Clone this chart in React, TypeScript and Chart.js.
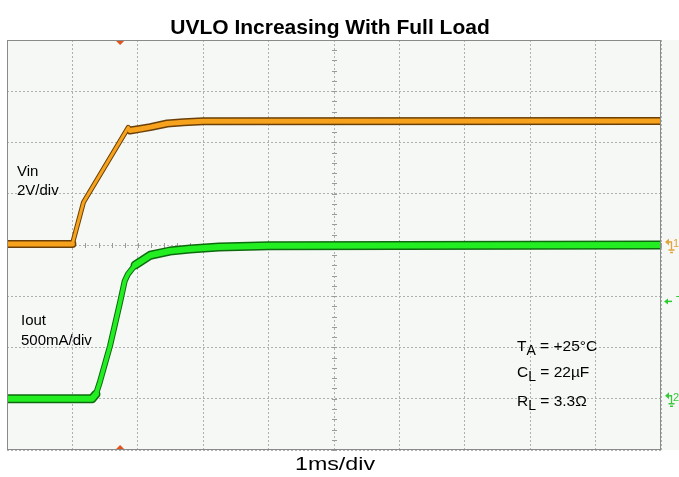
import React, { useEffect, useRef } from "react";
import { Chart, registerables } from "chart.js";

Chart.register(...registerables);

// ---- Data (time in ms, Vin in volts, Iout in mA) ----
const TIME_MS_VIN = [0, 1.0, 1.17, 1.855, 1.88, 2.03, 2.19, 2.45, 2.7, 3.0, 10];
const VIN_VOLTS = [0.04, 0.04, 1.67, 4.59, 4.47, 4.53, 4.6, 4.74, 4.79, 4.83, 4.84];

const TIME_MS_IOUT = [0, 1.3, 1.36, 1.42, 1.575, 1.73, 1.8, 1.85, 1.96, 2.19, 2.49, 2.8, 3.24, 4.0, 10];
const IOUT_MA = [0, 0, 45, 163, 515, 944, 1149, 1217, 1305, 1400, 1441, 1461, 1480, 1493, 1500];

// scope settings
const VIN_V_PER_DIV = 2;
const IOUT_MA_PER_DIV = 500;
const VIN_GROUND_DIV = 0;
const IOUT_GROUND_DIV = -3;
const TIME_DIVS = 10;
const VERT_DIVS_HALF = 4;
const TRIGGER_TIME_MS = 1.73;
const TRIGGER_LEVEL_MA = 950;

const TITLE = "UVLO Increasing With Full Load";
const X_LABEL = "1ms/div";

const vinPoints = TIME_MS_VIN.map((t, i) => ({ x: t, y: VIN_VOLTS[i] / VIN_V_PER_DIV + VIN_GROUND_DIV }));
const ioutPoints = TIME_MS_IOUT.map((t, i) => ({ x: t, y: IOUT_MA[i] / IOUT_MA_PER_DIV + IOUT_GROUND_DIV }));

const ORANGE = "#f7a21c";
const ORANGE_DARK = "#6a4008";
const GREEN = "#22ee22";
const GREEN_DARK = "#0e6a0e";

const scopePlugin = {
  id: "scope",
  beforeDraw(chart: any) {
    const { ctx, chartArea: a, width, height } = chart;
    ctx.save();
    ctx.fillStyle = "#ffffff";
    ctx.fillRect(0, 0, width, height);
    ctx.fillStyle = "#f6f8f6";
    ctx.fillRect(a.left, a.top, width - a.left, a.bottom - a.top);
    ctx.restore();
  },
  beforeDatasetsDraw(chart: any) {
    const { ctx, scales } = chart;
    const xs = scales.x, ys = scales.y;
    ctx.save();
    ctx.strokeStyle = "#9a9a9a";
    ctx.lineWidth = 1;
    const y0 = Math.round(ys.getPixelForValue(0)) + 0.5;
    for (let v = 0; v <= TIME_DIVS + 1e-9; v += 0.2) {
      const px = Math.round(xs.getPixelForValue(v)) + 0.5;
      ctx.beginPath();
      ctx.moveTo(px, y0 - 2.5);
      ctx.lineTo(px, y0 + 2.5);
      ctx.stroke();
    }
    const x0 = Math.round(xs.getPixelForValue(TIME_DIVS / 2)) + 0.5;
    for (let v = -VERT_DIVS_HALF; v <= VERT_DIVS_HALF + 1e-9; v += 0.2) {
      const py = Math.round(ys.getPixelForValue(v)) + 0.5;
      ctx.beginPath();
      ctx.moveTo(x0 - 2.5, py);
      ctx.lineTo(x0 + 2.5, py);
      ctx.stroke();
    }
    ctx.restore();
  },
  afterDraw(chart: any) {
    const { ctx, chartArea: a, scales } = chart;
    const xs = scales.x, ys = scales.y;
    ctx.save();
    // frame
    ctx.strokeStyle = "#8a8a8a";
    ctx.lineWidth = 1;
    ctx.strokeRect(a.left + 0.5, a.top + 0.5, a.right - a.left - 1, a.bottom - a.top - 1);

    // title
    ctx.fillStyle = "#000";
    ctx.textBaseline = "alphabetic";
    ctx.textAlign = "center";
    ctx.font = "bold 21px 'Liberation Sans', Arial, sans-serif";
    ctx.fillText(TITLE, 330, 34);

    // x label (stretched to match)
    ctx.textAlign = "left";
    ctx.font = "18.5px 'Liberation Sans', Arial, sans-serif";
    const w = ctx.measureText(X_LABEL).width;
    ctx.save();
    ctx.translate(295, 470);
    ctx.scale(80 / w, 1);
    ctx.fillText(X_LABEL, 0, 0);
    ctx.restore();

    // channel labels
    ctx.font = "15px 'Liberation Sans', Arial, sans-serif";
    ctx.fillText("Vin", 17, 176);
    ctx.fillText("2V/div", 17, 195);
    ctx.fillText("Iout", 21, 325);
    ctx.fillText("500mA/div", 21, 345);

    // conditions with subscripts
    const sub = (main: string, s: string, rest: string, x: number, y: number) => {
      ctx.font = "15.5px 'Liberation Sans', Arial, sans-serif";
      ctx.fillText(main, x, y);
      let cx = x + ctx.measureText(main).width;
      ctx.font = "14px 'Liberation Sans', Arial, sans-serif";
      ctx.fillText(s, cx, y + 3.5);
      cx += ctx.measureText(s).width;
      ctx.font = "15.5px 'Liberation Sans', Arial, sans-serif";
      ctx.fillText(rest, cx, y);
    };
    sub("T", "A", " = +25\u00b0C", 517, 351);
    sub("C", "L", " = 22\u00b5F", 517, 377);
    sub("R", "L", " = 3.3\u03a9", 517, 406);

    // trigger markers
    const tx = xs.getPixelForValue(TRIGGER_TIME_MS);
    ctx.fillStyle = "#e2541e";
    ctx.beginPath();
    ctx.moveTo(tx - 4, a.top + 1);
    ctx.lineTo(tx + 4, a.top + 1);
    ctx.lineTo(tx, a.top + 5);
    ctx.closePath();
    ctx.fill();
    ctx.beginPath();
    ctx.moveTo(tx - 4, a.bottom - 1);
    ctx.lineTo(tx + 4, a.bottom - 1);
    ctx.lineTo(tx, a.bottom - 5);
    ctx.closePath();
    ctx.fill();

    // ground markers
    const ground = (yv: number, color: string, label: string) => {
      const py = ys.getPixelForValue(yv);
      const x = a.right + 4;
      ctx.strokeStyle = color;
      ctx.fillStyle = color;
      ctx.lineWidth = 1.3;
      ctx.beginPath();
      ctx.moveTo(x, py - 3);
      ctx.lineTo(x + 4, py - 6.5);
      ctx.lineTo(x + 4, py + 0.5);
      ctx.closePath();
      ctx.fill();
      ctx.beginPath();
      ctx.moveTo(x + 3, py - 3);
      ctx.lineTo(x + 6.5, py - 3);
      ctx.lineTo(x + 6.5, py + 5);
      ctx.moveTo(x + 3.5, py + 5);
      ctx.lineTo(x + 9.5, py + 5);
      ctx.moveTo(x + 5, py + 7.5);
      ctx.lineTo(x + 8, py + 7.5);
      ctx.stroke();
      ctx.font = "11px 'Liberation Sans', Arial, sans-serif";
      ctx.fillText(label, x + 8, py + 2);
    };
    ground(VIN_GROUND_DIV, "#e4a43c", "1");
    ground(IOUT_GROUND_DIV, "#3cc83c", "2");

    // trigger level
    const ly = ys.getPixelForValue(TRIGGER_LEVEL_MA / IOUT_MA_PER_DIV + IOUT_GROUND_DIV);
    const lx = a.right + 3;
    ctx.strokeStyle = "#2ecc2e";
    ctx.fillStyle = "#2ecc2e";
    ctx.lineWidth = 1.5;
    ctx.beginPath();
    ctx.moveTo(lx, ly);
    ctx.lineTo(lx + 4, ly - 3);
    ctx.lineTo(lx + 4, ly + 3);
    ctx.closePath();
    ctx.fill();
    ctx.beginPath();
    ctx.moveTo(lx + 3, ly);
    ctx.lineTo(lx + 8, ly);
    ctx.stroke();
    ctx.font = "12px 'Liberation Sans', Arial, sans-serif";
    ctx.fillText("T", lx + 12, ly + 4);
    ctx.restore();
  },
};

// thinner trace on steep (fast-edge) segments, like a real scope
const steep = (c: any) => Math.abs(c.p1.y - c.p0.y) > 1.2 * Math.abs(c.p1.x - c.p0.x);

export default function App() {
  const ref = useRef<HTMLCanvasElement | null>(null);
  useEffect(() => {
    if (!ref.current) return;
    const common = { showLine: true, pointRadius: 0, tension: 0, borderJoinStyle: "round", borderCapStyle: "round" };
    const chart = new Chart(ref.current, {
      type: "scatter",
      data: {
        datasets: [
          { ...common, label: "Vin edge", data: vinPoints, borderColor: ORANGE_DARK, borderWidth: 8, order: 4,
            segment: { borderWidth: (c: any) => (steep(c) ? 5 : undefined) } },
          { ...common, label: "Vin", data: vinPoints, borderColor: ORANGE, borderWidth: 5, order: 3,
            segment: { borderWidth: (c: any) => (steep(c) ? 3 : undefined) } },
          { ...common, label: "Iout edge", data: ioutPoints, borderColor: GREEN_DARK, borderWidth: 9, order: 2,
            segment: { borderWidth: (c: any) => (steep(c) ? 6 : undefined) } },
          { ...common, label: "Iout", data: ioutPoints, borderColor: GREEN, borderWidth: 6, order: 1,
            segment: { borderWidth: (c: any) => (steep(c) ? 4 : undefined) } },
        ],
      },
      options: {
        responsive: false,
        animation: false,
        events: [],
        layout: { padding: { left: 7, right: 18, top: 40, bottom: 27 } },
        plugins: { legend: { display: false }, tooltip: { enabled: false }, title: { display: false } },
        scales: {
          x: {
            type: "linear",
            min: 0,
            max: TIME_DIVS,
            ticks: { display: false, stepSize: 1 },
            grid: { color: "#b0b0b0", drawTicks: false, lineWidth: 1 },
            border: { display: false, dash: [2, 2] },
          },
          y: {
            type: "linear",
            min: -VERT_DIVS_HALF,
            max: VERT_DIVS_HALF,
            ticks: { display: false, stepSize: 1 },
            grid: { color: "#b0b0b0", drawTicks: false, lineWidth: 1 },
            border: { display: false, dash: [2, 2] },
          },
        },
      },
      plugins: [scopePlugin],
    } as any);
    return () => chart.destroy();
  }, []);
  return (
    <div style={{ position: "fixed", left: 0, top: 0, width: 679, height: 477, background: "#fff" }}>
      <canvas ref={ref} width={679} height={477} style={{ display: "block", width: 679, height: 477 }} />
    </div>
  );
}
